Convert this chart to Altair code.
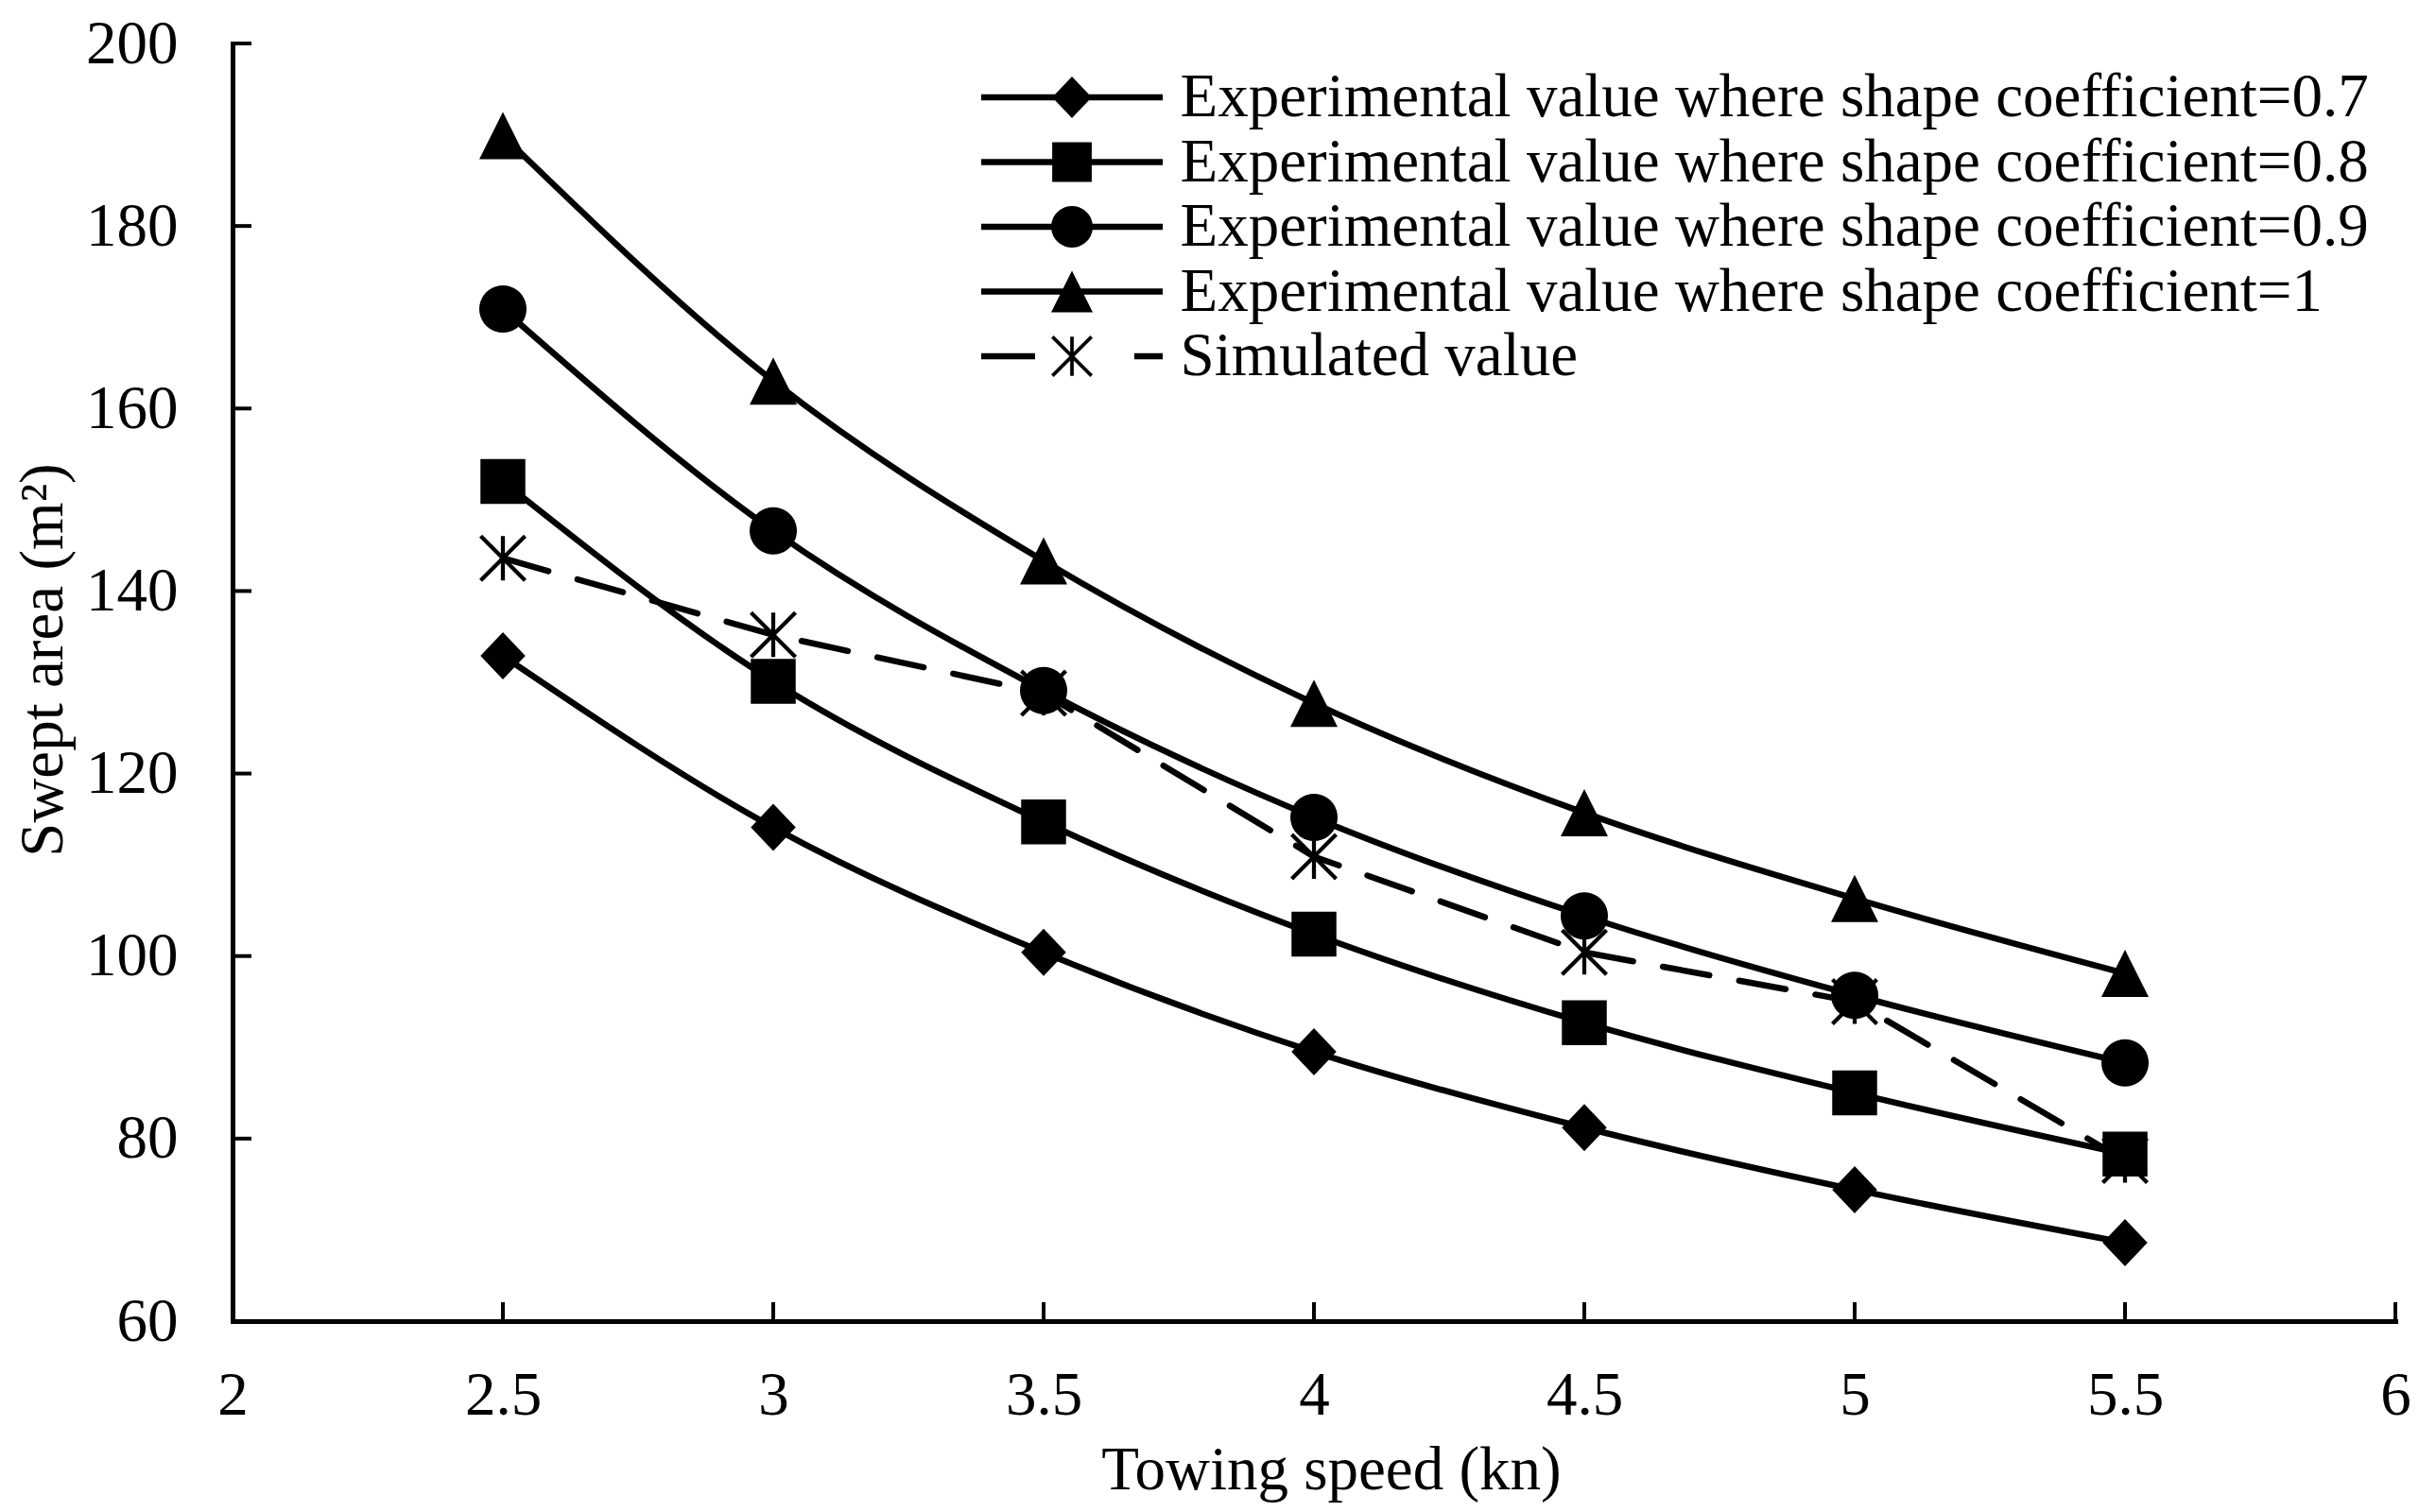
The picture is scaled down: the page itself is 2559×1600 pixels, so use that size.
import math
import altair as alt
import pandas as pd

# ---------------- data ----------------
speed = [2.5, 3.0, 3.5, 4.0, 4.5, 5.0, 5.5]
exp_07 = [132.9, 114.1, 100.4, 89.5, 81.2, 74.4, 68.6]
exp_08 = [152.0, 130.1, 114.7, 102.4, 92.7, 85.0, 78.3]
exp_09 = [170.9, 146.6, 129.1, 115.2, 104.4, 95.7, 88.3]
exp_10 = [189.9, 163.0, 143.3, 127.7, 115.7, 106.3, 98.1]
simulated = [143.6, 135.2, 128.8, 110.9, 100.4, 95.0, 77.6]

series_names = [
    "Experimental value where shape coefficient=0.7",
    "Experimental value where shape coefficient=0.8",
    "Experimental value where shape coefficient=0.9",
    "Experimental value where shape coefficient=1",
    "Simulated value",
]
x_ticks = [2, 2.5, 3, 3.5, 4, 4.5, 5, 5.5, 6]
y_ticks = [60, 80, 100, 120, 140, 160, 180, 200]

exp_series = [exp_07, exp_08, exp_09, exp_10]

exp_rows = []
for name, vals in zip(series_names[:4], exp_series):
    for s, v in zip(speed, vals):
        exp_rows.append({"speed": s, "area": v, "series": name})
sim_rows = [{"speed": s, "area": v, "series": series_names[4]} for s, v in zip(speed, simulated)]

exp_df = pd.DataFrame(exp_rows)
sim_df = pd.DataFrame(sim_rows)
pts_df = pd.DataFrame(sim_rows + exp_rows)   # asterisks drawn first (behind)
xt_df = pd.DataFrame({"v": x_ticks})
yt_df = pd.DataFrame({"v": y_ticks})

# ---------------- marker shapes (SVG paths in unit box) ----------------
def poly(pts):
    return "M" + "L".join(f"{x:.3f},{y:.3f}" for x, y in pts) + "Z"

def rect(x0, y0, x1, y1):
    return poly([(x0, y0), (x1, y0), (x1, y1), (x0, y1)])

def diamond(cx):
    return poly([(cx, -1.0), (cx + 0.95, 0), (cx, 1.0), (cx - 0.95, 0)])

def square(cx):
    return rect(cx - 0.95, -0.95, cx + 0.95, 0.95)

def circle(cx):
    n = 40
    return poly([(cx + math.cos(2 * math.pi * i / n), math.sin(2 * math.pi * i / n)) for i in range(n)])

def triangle(cx):
    return poly([(cx, -1.0), (cx + 1.0, 1.0), (cx - 1.0, 1.0)])

def arm(cx, dx, dy, L, t):
    nx, ny = -dy, dx
    pts = [
        (cx + L * dx + t * nx, L * dy + t * ny),
        (cx + L * dx - t * nx, L * dy - t * ny),
        (cx - L * dx - t * nx, -L * dy - t * ny),
        (cx - L * dx + t * nx, -L * dy + t * ny),
    ]
    return poly(pts[::-1])

def asterisk(cx):
    t = 0.085
    h = 0.94
    d = 1 / math.sqrt(2)
    return (arm(cx, 0, 1, h, t) + arm(cx, d, d, h * math.sqrt(2), t)
            + arm(cx, d, -d, h * math.sqrt(2), t))

plot_paths = [diamond(0), square(0), circle(0), triangle(0), asterisk(0)]

# legend symbols: line + marker (unit = 22 px)
LC = 3.364          # marker centre
L0, L1 = -1.0, 7.727
LT = 0.15           # half line thickness
line = rect(L0, -LT, L1, LT)
legend_paths = [
    line + diamond(LC),
    line + square(LC),
    line + circle(LC),
    line + triangle(LC),
    rect(L0, -LT, 1.59, LT) + asterisk(LC) + rect(6.36, -LT, L1, LT),
]

W, H = 2288, 1352
FONT = "Liberation Serif"

xscale = alt.Scale(domain=[2, 6], nice=False, zero=False)
yscale = alt.Scale(domain=[60, 200], nice=False, zero=False)

xaxis = alt.Axis(values=x_ticks, format="~g", labelPadding=47, labelFlush=False,
                 title="Towing speed (kn)", titleX=1162, titleY=177,
                 titleBaseline="alphabetic", titleAlign="center")
yaxis = alt.Axis(values=y_ticks, format="d", labelPadding=58, labelFlush=False,
                 title="Swept area (m²)", titleX=-181, titleY=652, titleAngle=270,
                 titleBaseline="alphabetic", titleAlign="center")

lines_exp = alt.Chart(exp_df).mark_line(
    interpolate="monotone", color="black", strokeWidth=6.5
).encode(
    x=alt.X("speed:Q", scale=xscale, axis=xaxis),
    y=alt.Y("area:Q", scale=yscale, axis=yaxis),
    detail="series:N",
)

line_sim = alt.Chart(sim_df).mark_line(
    color="black", strokeWidth=6.5, strokeDash=[50, 32], strokeCap="round"
).encode(x="speed:Q", y="area:Q")

points = alt.Chart(pts_df).mark_point(
    filled=True, color="black", opacity=1, size=2500
).encode(
    x="speed:Q", y="area:Q",
    shape=alt.Shape("series:N", scale=alt.Scale(domain=series_names, range=plot_paths), legend=None),
)

legend_layer = alt.Chart(pts_df).mark_point(
    filled=True, color="black", opacity=0
).encode(
    x="speed:Q", y="area:Q",
    shape=alt.Shape(
        "series:N",
        scale=alt.Scale(domain=series_names, range=legend_paths),
        legend=alt.Legend(
            title=None, orient="none", legendX=781.5, legendY=24.5,
            labelFont=FONT, labelFontSize=65, labelColor="black", labelLimit=3000,
            labelOffset=156, rowPadding=2.5, symbolSize=1936, symbolOpacity=1,
            symbolFillColor="black", symbolStrokeWidth=0, padding=0,
        ),
    ),
)

y_tick_marks = alt.Chart(yt_df).mark_rule(color="black", strokeWidth=4).encode(
    y="v:Q", x=alt.value(0), x2=alt.value(20)
)
x_tick_marks = alt.Chart(xt_df).mark_rule(color="black", strokeWidth=4).encode(
    x="v:Q", y=alt.value(H), y2=alt.value(H - 20)
)

chart = alt.layer(
    lines_exp, line_sim, y_tick_marks, x_tick_marks, points, legend_layer
).resolve_scale(shape="independent").properties(
    width=W, height=H,
    padding={"left": 238, "top": 38, "right": 17, "bottom": 194},
    autosize=alt.AutoSizeParams(type="none"),
    background="white",
).configure_axis(
    domainColor="black", domainWidth=5, domainCap="square",
    labelFont=FONT, labelFontSize=65, labelColor="black",
    titleFont=FONT, titleFontSize=65, titleColor="black", titleFontWeight="normal",
    grid=False, ticks=False, tickSize=0,
).configure_view(strokeWidth=0)

chart.save("out.html", embed_options={"renderer": "svg", "actions": False})
